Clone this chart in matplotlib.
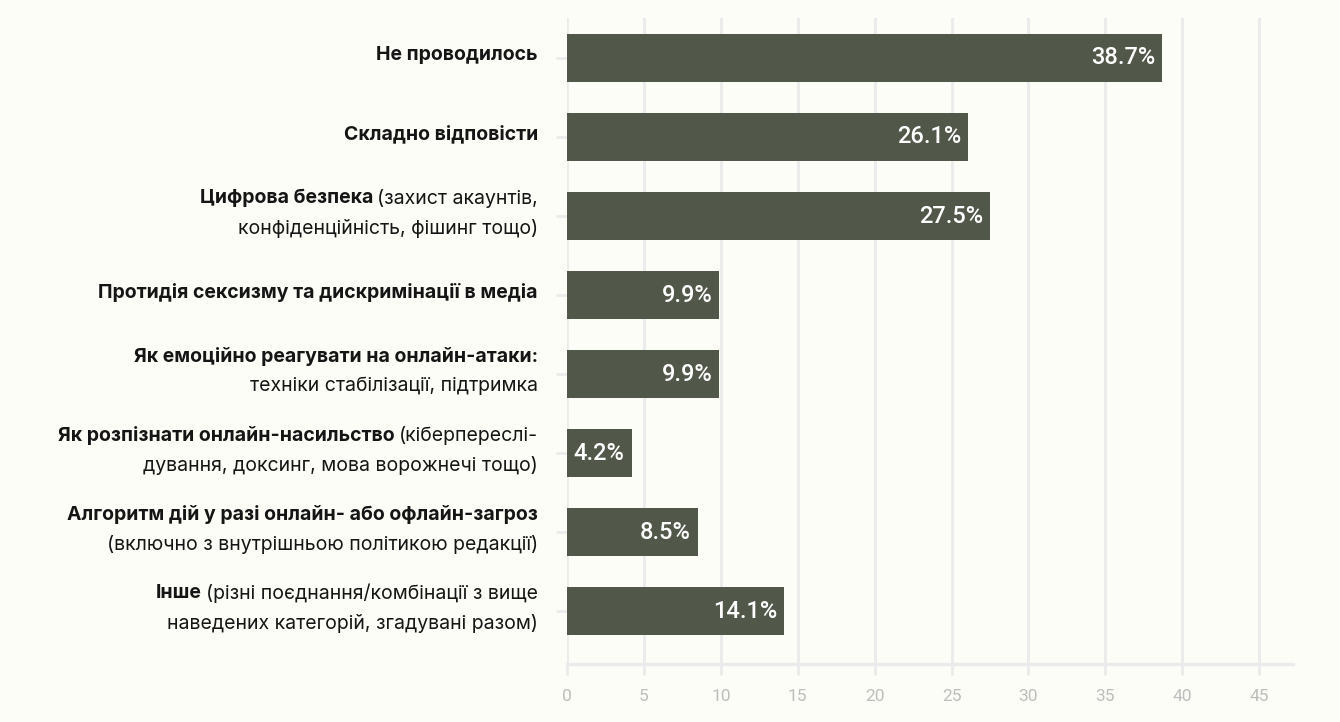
import matplotlib
matplotlib.use('Agg')
import matplotlib.pyplot as plt
from matplotlib.transforms import offset_copy

# data
values = [38.7, 26.1, 27.5, 9.9, 9.9, 4.2, 8.5, 14.1]
# each category: list of lines, each line = (bold part, regular part)
label_lines = [
    [("Не проводилось", "")],
    [("Складно відповісти", "")],
    [("Цифрова безпека", "(захист акаунтів,"), ("", "конфіденційність, фішинг тощо)")],
    [("Протидія сексизму та дискримінації в медіа", "")],
    [("Як емоційно реагувати на онлайн-атаки:", ""), ("", "техніки стабілізації, підтримка")],
    [("Як розпізнати онлайн-насильство", "(кіберпереслі-"), ("", "дування, доксинг, мова ворожнечі тощо)")],
    [("Алгоритм дій у разі онлайн- або офлайн-загроз", ""), ("", "(включно з внутрішньою політикою редакції)")],
    [("Інше", "(різні поєднання/комбінації з вище"), ("", "наведених категорій, згадувані разом)")],
]
xticks = [0, 5, 10, 15, 20, 25, 30, 35, 40, 45]

BG = '#fdfdf7'
BAR = '#525849'
GRID = '#ebebeb'
LABEL_FONT = 'Inter'

fig = plt.figure(figsize=(13.4, 7.22), dpi=100, facecolor=BG)
ax = fig.add_axes([567 / 1340, 1 - 664 / 722, (1293 - 567) / 1340, (664 - 18) / 722])
ax.set_facecolor(BG)

ypos = list(range(len(values)))
ax.barh(ypos, values, height=0.61, color=BAR, zorder=3)
ax.set_xlim(0, 47.2)
ax.set_ylim(7.67, -0.506)

ax.set_xticks(xticks)
ax.set_xticklabels([str(t) for t in xticks], fontfamily='Roboto', fontsize=12.5, color='#bdbdbd')
ax.tick_params(axis='x', length=8, width=2, color=GRID, pad=10)
ax.set_yticks(ypos)
ax.set_yticklabels([])
ax.tick_params(axis='y', length=8, width=2, color=GRID)
ax.grid(axis='x', color=GRID, linewidth=2, zorder=0)
for side in ['top', 'right', 'left']:
    ax.spines[side].set_visible(False)
ax.spines['bottom'].set_color(GRID)
ax.spines['bottom'].set_linewidth(2.5)

# value labels inside the bars
for y, v in zip(ypos, values):
    ax.text(v, y, f"{v}%", transform=offset_copy(ax.transData, fig, x=-7, y=0, units='dots'),
            ha='right', va='center', color='white', fontsize=17, fontfamily='Roboto',
            fontweight='medium', zorder=4)

# category labels: bold + regular parts, right aligned
fig.canvas.draw()
renderer = fig.canvas.get_renderer()
line_gap = 30
for y, lines in zip(ypos, label_lines):
    n = len(lines)
    for i, (bold, regular) in enumerate(lines):
        dy = (i - (n - 1) / 2) * line_gap - 3
        xoff = -29
        if regular:
            t = ax.text(0, y, regular, transform=offset_copy(ax.get_yaxis_transform(), fig, x=xoff, y=-dy, units='dots'),
                        ha='right', va='center', fontsize=14, fontfamily=LABEL_FONT, color='#151515')
            w = t.get_window_extent(renderer).width
            xoff -= w + 4
        if bold:
            ax.text(0, y, bold, transform=offset_copy(ax.get_yaxis_transform(), fig, x=xoff, y=-dy, units='dots'),
                    ha='right', va='center', fontsize=14, fontfamily=LABEL_FONT, fontweight='bold', color='#151515')

fig.savefig('out.png', dpi=100, facecolor=BG)
